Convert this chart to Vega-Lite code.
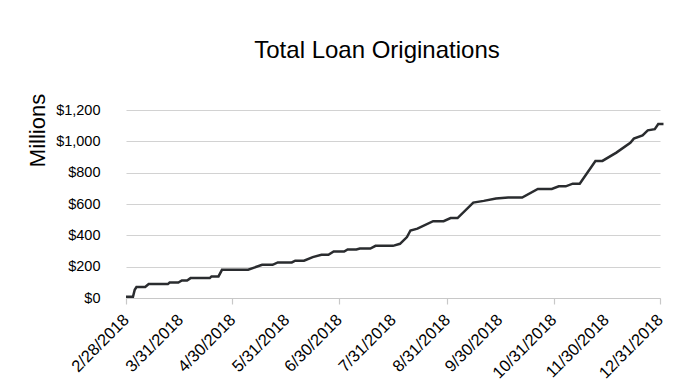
{
  "$schema": "https://vega.github.io/schema/vega-lite/v6.json",
  "width": 534,
  "height": 188,
  "autosize": {"type": "none"},
  "padding": {"left": 126, "top": 110, "right": 40, "bottom": 89},
  "background": "white",
  "config": {
    "view": {"stroke": null},
    "font": "Liberation Sans",
    "axis": {"labelFont": "Liberation Sans", "titleFont": "Liberation Sans", "labelColor": "#000", "titleColor": "#000"}
  },
  "title": {
    "text": "Total Loan Originations",
    "fontSize": 24,
    "fontWeight": "normal",
    "font": "Liberation Sans",
    "color": "#000",
    "anchor": "middle",
    "frame": "group",
    "dx": -16,
    "offset": 30
  },
  "data": {
    "values": [
      {"date": "2018-02-28", "value": 8},
      {"date": "2018-03-04", "value": 8},
      {"date": "2018-03-05", "value": 53},
      {"date": "2018-03-06", "value": 70},
      {"date": "2018-03-11", "value": 70},
      {"date": "2018-03-13", "value": 89},
      {"date": "2018-03-24", "value": 89},
      {"date": "2018-03-25", "value": 99},
      {"date": "2018-03-30", "value": 99},
      {"date": "2018-04-01", "value": 112},
      {"date": "2018-04-04", "value": 112},
      {"date": "2018-04-06", "value": 127},
      {"date": "2018-04-17", "value": 127},
      {"date": "2018-04-18", "value": 138},
      {"date": "2018-04-22", "value": 138},
      {"date": "2018-04-24", "value": 180},
      {"date": "2018-05-09", "value": 180},
      {"date": "2018-05-17", "value": 212},
      {"date": "2018-05-23", "value": 212},
      {"date": "2018-05-26", "value": 227},
      {"date": "2018-06-03", "value": 227},
      {"date": "2018-06-05", "value": 238},
      {"date": "2018-06-10", "value": 238},
      {"date": "2018-06-15", "value": 261},
      {"date": "2018-06-20", "value": 276},
      {"date": "2018-06-24", "value": 276},
      {"date": "2018-06-27", "value": 297},
      {"date": "2018-07-03", "value": 297},
      {"date": "2018-07-05", "value": 310},
      {"date": "2018-07-10", "value": 310},
      {"date": "2018-07-12", "value": 316},
      {"date": "2018-07-18", "value": 316},
      {"date": "2018-07-21", "value": 333},
      {"date": "2018-07-31", "value": 333},
      {"date": "2018-08-04", "value": 346},
      {"date": "2018-08-08", "value": 389},
      {"date": "2018-08-10", "value": 431},
      {"date": "2018-08-14", "value": 443},
      {"date": "2018-08-23", "value": 490},
      {"date": "2018-08-29", "value": 490},
      {"date": "2018-09-02", "value": 510},
      {"date": "2018-09-06", "value": 510},
      {"date": "2018-09-15", "value": 609},
      {"date": "2018-09-21", "value": 620},
      {"date": "2018-09-28", "value": 635},
      {"date": "2018-10-05", "value": 641},
      {"date": "2018-10-13", "value": 641},
      {"date": "2018-10-22", "value": 696},
      {"date": "2018-10-30", "value": 696},
      {"date": "2018-11-03", "value": 713},
      {"date": "2018-11-07", "value": 713},
      {"date": "2018-11-11", "value": 730},
      {"date": "2018-11-15", "value": 730},
      {"date": "2018-11-24", "value": 875},
      {"date": "2018-11-28", "value": 875},
      {"date": "2018-12-06", "value": 928},
      {"date": "2018-12-14", "value": 991},
      {"date": "2018-12-16", "value": 1017},
      {"date": "2018-12-21", "value": 1038},
      {"date": "2018-12-24", "value": 1070},
      {"date": "2018-12-28", "value": 1078},
      {"date": "2018-12-30", "value": 1110},
      {"date": "2019-01-02", "value": 1110}
    ]
  },
  "mark": {"type": "line", "color": "#2a2c2f", "strokeWidth": 2.5, "clip": false},
  "encoding": {
    "x": {
      "field": "date",
      "type": "temporal",
      "scale": {
        "type": "utc",
        "domain": [
          {"year": 2018, "month": 2, "date": 28, "utc": true},
          {"year": 2018, "month": 12, "date": 31, "utc": true}
        ]
      },
      "axis": {
        "title": null,
        "values": [
          {"year": 2018, "month": 2, "date": 28, "utc": true},
          {"year": 2018, "month": 3, "date": 31, "utc": true},
          {"year": 2018, "month": 4, "date": 30, "utc": true},
          {"year": 2018, "month": 5, "date": 31, "utc": true},
          {"year": 2018, "month": 6, "date": 30, "utc": true},
          {"year": 2018, "month": 7, "date": 31, "utc": true},
          {"year": 2018, "month": 8, "date": 31, "utc": true},
          {"year": 2018, "month": 9, "date": 30, "utc": true},
          {"year": 2018, "month": 10, "date": 31, "utc": true},
          {"year": 2018, "month": 11, "date": 30, "utc": true},
          {"year": 2018, "month": 12, "date": 31, "utc": true}
        ],
        "labelExpr": "utcFormat(datum.value, '%-m/%-d/%Y')",
        "labelAngle": -45,
        "labelAlign": "right",
        "labelBaseline": "middle",
        "labelFontSize": 16.5,
        "labelPadding": 13,
        "labelOverlap": false,
        "labelBound": false,
        "labelFlush": false,
        "grid": false,
        "domainColor": "#c8c8c8",
        "domainWidth": 1.2,
        "tickColor": "#c8c8c8",
        "tickWidth": 1.2,
        "tickSize": 6,
        "tickOpacity": {"condition": {"test": "utcmonth(datum.value) % 2 == 1", "value": 1}, "value": 0}
      }
    },
    "y": {
      "field": "value",
      "type": "quantitative",
      "scale": {"domain": [0, 1200], "nice": false},
      "axis": {
        "title": "Millions",
        "titleFontSize": 22,
        "titleFontWeight": "normal",
        "titleAngle": -90,
        "titleAlign": "center",
        "titleBaseline": "middle",
        "titleX": -89,
        "titleY": 20,
        "values": [0, 200, 400, 600, 800, 1000, 1200],
        "format": "$,.0f",
        "labelFontSize": 14.5,
        "labelPadding": 26,
        "ticks": false,
        "domain": false,
        "gridColor": "#d2d2d2",
        "gridWidth": 1.2
      }
    }
  }
}
